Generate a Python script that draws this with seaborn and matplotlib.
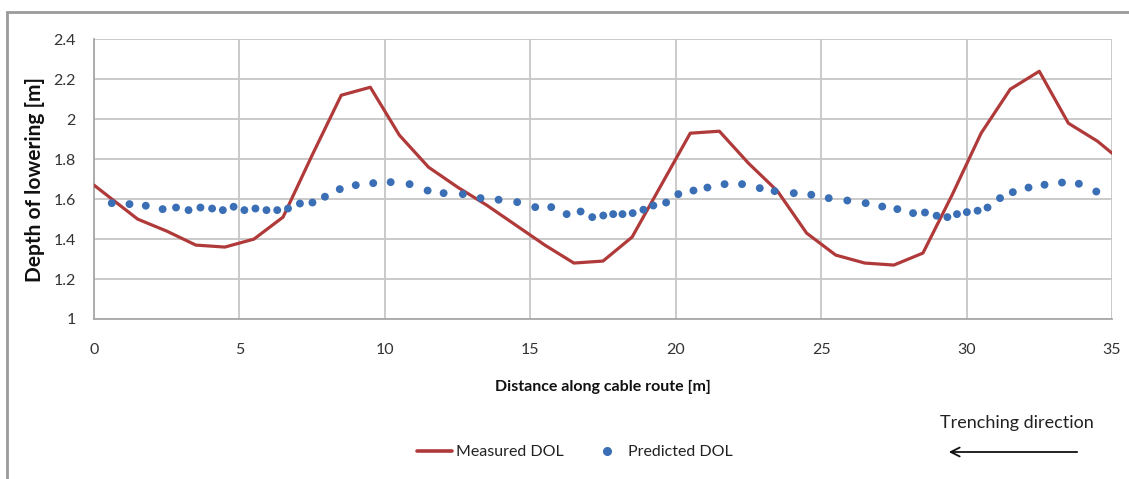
import matplotlib
matplotlib.use("Agg")
import matplotlib.pyplot as plt
from matplotlib import font_manager
from matplotlib.lines import Line2D
from matplotlib.patches import Rectangle, FancyArrowPatch
import seaborn as sns
import pandas as pd

# Measured depth of lowering along the route
measured_x = [0, 1.5, 2.5, 3.5, 4.5, 5.5, 6.5, 7.5, 8.5, 9.5, 10.5, 11.5, 12.5, 13.5,
              14.5, 15.5, 16.5, 17.5, 18.5, 19.5, 20.5, 21.5, 22.5, 23.5, 24.5, 25.5,
              26.5, 27.5, 28.5, 29.5, 30.5, 31.5, 32.5, 33.5, 34.5, 35]
measured_dol = [1.67, 1.50, 1.44, 1.37, 1.36, 1.40, 1.51, 1.82, 2.12, 2.16, 1.92, 1.76,
                1.66, 1.57, 1.47, 1.37, 1.28, 1.29, 1.41, 1.67, 1.93, 1.94, 1.78, 1.64,
                1.43, 1.32, 1.28, 1.27, 1.33, 1.62, 1.93, 2.15, 2.24, 1.98, 1.89, 1.83]

# Predicted depth of lowering
predicted_x = [0.61, 1.22, 1.78, 2.36, 2.82, 3.25, 3.66, 4.06, 4.43, 4.80, 5.17, 5.55,
               5.93, 6.30, 6.67, 7.08, 7.51, 7.94, 8.45, 9.0, 9.6, 10.2, 10.85, 11.47,
               12.02, 12.68, 13.29, 13.91, 14.55, 15.17, 15.72, 16.25, 16.73, 17.13,
               17.51, 17.85, 18.17, 18.52, 18.89, 19.23, 19.67, 20.09, 20.61, 21.09,
               21.68, 22.28, 22.89, 23.4, 24.06, 24.66, 25.26, 25.9, 26.53, 27.1, 27.62,
               28.16, 28.57, 28.97, 29.34, 29.67, 30.01, 30.38, 30.72, 31.15, 31.59,
               32.13, 32.68, 33.28, 33.86, 34.46]
predicted_dol = [1.58, 1.575, 1.567, 1.55, 1.558, 1.545, 1.558, 1.553, 1.545, 1.562,
                 1.545, 1.553, 1.545, 1.545, 1.553, 1.578, 1.583, 1.612, 1.65, 1.67,
                 1.68, 1.685, 1.675, 1.643, 1.63, 1.625, 1.605, 1.597, 1.585, 1.56,
                 1.56, 1.525, 1.538, 1.51, 1.518, 1.525, 1.525, 1.53, 1.547, 1.568,
                 1.583, 1.625, 1.643, 1.658, 1.675, 1.675, 1.655, 1.64, 1.63, 1.622,
                 1.605, 1.593, 1.58, 1.563, 1.55, 1.53, 1.533, 1.517, 1.51, 1.525,
                 1.535, 1.542, 1.558, 1.605, 1.635, 1.658, 1.672, 1.683, 1.677, 1.638]

x_ticks = [0, 5, 10, 15, 20, 25, 30, 35]
y_ticks = [1, 1.2, 1.4, 1.6, 1.8, 2, 2.2, 2.4]
y_tick_labels = ["1", "1.2", "1.4", "1.6", "1.8", "2", "2.2", "2.4"]

RED = "#b03a3a"
BLUE = "#3a6eb5"
GRID = "#c6c6c6"

sns.set_theme(style="white")
available = {f.name for f in font_manager.fontManager.ttflist}
family = "Liberation Sans Narrow" if "Liberation Sans Narrow" in available else "Lato"
plt.rcParams["font.family"] = [family, "DejaVu Sans"]

W, H = 1129, 479
fig = plt.figure(figsize=(W / 100, H / 100), dpi=100)
fig.patch.set_facecolor("white")

# chart frame
fig.patches.append(Rectangle((7 / W, -0.05), 1.2, (1 - 12 / H) + 0.05,
                             transform=fig.transFigure, fill=False,
                             edgecolor="#9a9a9a", linewidth=2.0))

ax = fig.add_axes([94 / W, (H - 319) / H, (1112 - 94) / W, (319 - 39.3) / H])

df_meas = pd.DataFrame({"x": measured_x, "dol": measured_dol})
df_pred = pd.DataFrame({"x": predicted_x, "dol": predicted_dol})

sns.lineplot(data=df_meas, x="x", y="dol", ax=ax, color=RED, linewidth=2.3,
             sort=False, zorder=3)
sns.scatterplot(data=df_pred, x="x", y="dol", ax=ax, color=BLUE, s=32,
                edgecolor="none", zorder=4)

ax.set_xlim(0, 35)
ax.set_ylim(1, 2.4)
ax.set_xticks(x_ticks)
ax.set_yticks(y_ticks)
ax.set_yticklabels(y_tick_labels)
ax.grid(True, color=GRID, linewidth=1.3)
ax.set_axisbelow(True)
for side in ("top", "right"):
    ax.spines[side].set_visible(False)
for side in ("left", "bottom"):
    ax.spines[side].set_color("#a8a8a8")
    ax.spines[side].set_linewidth(1.3)
ax.tick_params(axis="both", which="major", direction="out", length=5, width=1.2,
               color="#a8a8a8", labelsize=11.5, labelcolor="#333333", pad=8)
ax.tick_params(axis="x", pad=12)

ax.set_xlabel("Distance along cable route [m]", fontsize=11.5, fontweight="bold",
              color="#111111", labelpad=17)
ax.set_ylabel("Depth of lowering [m]", fontsize=15, fontweight="bold",
              color="#111111", labelpad=6)

handles = [Line2D([], [], color=RED, linewidth=2.6),
           Line2D([], [], color=BLUE, marker="o", linestyle="none", markersize=5.5)]
fig.legend(handles, ["Measured DOL", "Predicted DOL"], loc="center",
           bbox_to_anchor=(575 / W, 1 - 452 / H), ncol=2, frameon=False,
           fontsize=11.5, handlelength=2.2, columnspacing=1.6, handletextpad=0.25,
           labelcolor="#222222")

fig.text(1017 / W, 1 - 423 / H, "Trenching direction", ha="center", va="center",
         fontsize=13, color="#222222")
fig.add_artist(FancyArrowPatch(
    (1080 / W, 1 - 452 / H), (946 / W, 1 - 452 / H), transform=fig.transFigure,
    arrowstyle="->", mutation_scale=16, color="#111111", linewidth=1.3))

fig.savefig("out.png", dpi=100)
